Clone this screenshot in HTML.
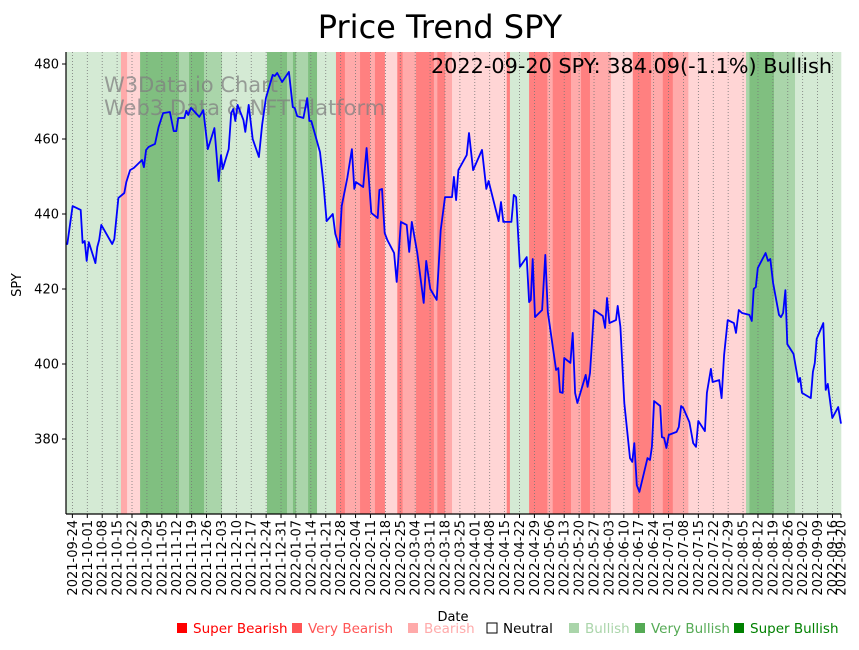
<!DOCTYPE html>
<html><head><meta charset="utf-8"><style>
html,body{margin:0;padding:0;background:#fff;}
body{width:859px;height:646px;overflow:hidden;font-family:"DejaVu Sans","Liberation Sans",sans-serif;}
</style></head><body>
<svg id="chart" width="859" height="646" xmlns="http://www.w3.org/2000/svg"></svg>
<script>
// ---- data ----
const startDate = "2021-09-21";
const endDay = 364;
const priceDays = [0,0.6,3.1,6.9,7.8,8.8,9.7,10.7,13.8,14.7,15.6,16.6,21.7,22.7,24.6,27.4,28.3,30.1,31.9,35.7,36.6,37.6,38.8,41.8,43.5,45.6,48.8,50.6,51.8,52.7,55.6,56.5,57.4,58.7,62.6,64.5,66.6,69.7,71.7,72.8,73.6,76.4,77.6,78.6,79.5,80.6,83.3,84.2,85.8,87.7,90.6,92.1,93.9,97.1,98.0,99.2,101.5,104.7,106.5,107.4,108.6,111.5,113.3,114.3,115.2,119.3,120.9,122.4,125.3,126.5,128.4,129.5,132.1,134.3,135.4,136.2,139.6,141.2,143.4,146.4,147.2,148.4,149.7,150.9,154.1,155.3,157.3,160.0,161.2,162.4,165.0,168.0,169.2,171.1,174.1,176.0,178.0,181.3,182.2,183.2,184.3,188.2,189.3,191.2,195.4,197.4,198.5,203.2,204.3,205.4,209.2,210.3,211.4,213.2,216.4,217.5,218.3,219.2,220.3,223.6,225.1,226.3,230.2,231.2,232.0,233.3,234.0,236.9,238.0,239.1,240.2,244.1,245.0,246.1,248.0,252.1,253.2,254.1,255.2,258.3,259.1,260.4,262.2,264.9,266.0,266.9,268.1,269.3,273.1,274.3,275.2,276.2,279.1,279.9,280.9,282.0,283.1,286.8,287.8,288.9,289.9,292.8,294.6,295.9,297.0,300.1,301.0,302.9,303.7,306.8,307.9,309.1,310.8,313.7,314.7,316.0,317.5,321.0,322.1,323.0,324.0,324.9,328.6,329.7,330.8,332.1,334.9,335.8,336.8,337.9,338.8,341.7,344.0,344.8,345.7,349.8,350.8,351.7,352.6,355.7,356.8,357.8,359.9,362.7,364.0];
const priceValues = [432.0,432.0,442.1,441.1,432.3,432.8,427.5,432.5,426.9,431.2,433.1,437.1,432.0,433.3,444.3,445.6,448.5,451.7,452.3,454.4,452.5,457.1,457.9,458.7,463.2,466.9,467.2,462.1,462.1,465.6,465.6,467.5,466.4,468.3,465.9,467.7,457.3,462.9,448.8,455.7,452.0,457.3,466.9,468.0,464.8,469.1,465.1,461.9,469.1,460.0,455.2,463.7,470.9,477.1,476.8,477.6,475.2,477.9,468.5,468.3,466.1,465.6,470.9,464.8,464.8,456.5,448.3,438.1,440.0,434.7,431.2,442.1,449.6,457.3,446.7,448.5,447.2,457.6,440.3,438.9,446.4,446.7,434.9,433.1,429.6,421.9,437.9,437.1,429.9,437.9,429.6,416.3,427.5,420.0,417.1,435.7,444.5,444.5,449.9,443.7,451.7,455.7,461.6,451.7,457.1,446.7,448.8,438.1,443.2,437.9,437.9,445.1,444.5,425.9,428.5,416.5,417.1,428.0,412.5,414.4,429.1,413.9,398.4,398.9,392.5,392.3,401.6,400.3,408.3,392.3,389.6,397.1,393.9,397.6,414.4,412.8,409.6,417.6,410.9,411.7,415.5,409.9,389.6,374.9,373.9,378.9,367.7,365.9,374.9,374.4,377.9,390.1,388.8,380.5,380.3,377.6,381.1,381.9,383.2,388.8,388.3,384.5,378.9,377.9,384.8,382.1,392.3,398.7,395.2,395.7,390.9,402.4,411.7,410.9,408.3,414.4,413.6,413.1,411.5,420.0,420.5,425.6,429.6,427.5,428.0,421.6,413.1,412.5,413.6,419.7,405.3,402.7,395.2,396.3,392.3,390.9,397.9,400.3,406.7,410.9,393.1,394.7,385.6,388.5,384.1];
const bandStarts = [0,25.8,28.7,34.8,53.1,57.8,64.8,73.3,94.4,103.8,106.6,108.0,113.7,117.9,126.8,131.0,138.1,142.8,145.1,149.8,155.6,158.1,164.4,172.8,174.4,178.0,181.3,207.0,208.5,217.5,226.1,228.6,237.2,241.9,246.1,256.0,266.2,274.8,280.3,285.0,292.3,319.4,321.0,332.5,342.4];
const bandEnds = [25.8,28.7,34.8,53.1,57.8,64.8,73.3,94.4,103.8,106.6,108.0,113.7,117.9,126.8,131.0,138.1,142.8,145.1,149.8,155.6,158.1,164.4,172.8,174.4,178.0,181.3,207.0,208.5,217.5,226.1,228.6,237.2,241.9,246.1,256.0,266.2,274.8,280.3,285.0,292.3,319.4,321.0,332.5,342.4,364.0];
const bandStates = ["LG","MR","LR","DG","MG","DG","MG","LG","DG","MG","DG","MG","DG","LG","SR","MR","SR","MR","SR","LR","SR","MR","SR","MR","SR","MR","LR","SR","LG","SR","MR","SR","MR","SR","MR","LR","SR","MR","SR","MR","LR","MG","DG","MG","LG"];
const yTicks = [380,400,420,440,460,480];
const legendLabels = ["Super Bearish","Very Bearish","Bearish","Neutral","Bullish","Very Bullish","Super Bullish"];
const legendColors = ["#ff0000","#ff5555","#ffaaaa","none","#aad5aa","#55aa55","#008000"];
const legendX = [176,291,407,486,568,634,733];

// ---- layout ----
const NS="http://www.w3.org/2000/svg";
const svg=document.getElementById('chart');
const X0=66,X1=841,Y0=52,Y1=514;
const xScale=d=>X0+(d/endDay)*(X1-X0);
const yScale=v=>439-(v-380)*3.75;
const bandColor={LG:"#d4ead4",MG:"#aad5aa",DG:"#80bf80",LR:"#ffd5d5",MR:"#ffaaaa",SR:"#ff8080"};
function mk(tag,attrs,parent){const e=document.createElementNS(NS,tag);for(const k in attrs)e.setAttribute(k,attrs[k]);(parent||svg).appendChild(e);return e;}
function dateStr(d){const t=new Date(startDate+"T00:00:00Z");t.setUTCDate(t.getUTCDate()+d);return t.toISOString().slice(0,10);}

// bands
const gB=mk('g',{});


for(let i=0;i<bandStarts.length;i++){
  const r=mk('rect',{x:xScale(bandStarts[i]),y:Y0,width:xScale(bandEnds[i])-xScale(bandStarts[i])+0.3,height:Y1-Y0,fill:bandColor[bandStates[i]]},gB);
  
  
}
// x ticks + grid
const tickDays=[];for(let d=3;d<=endDay;d+=7)tickDays.push(d);tickDays.push(endDay);
const gX=mk('g',{});


tickDays.forEach(d=>{
  const x=xScale(d);
  if(d<endDay){const gl=mk('line',{x1:x,x2:x,y1:Y0,y2:Y1,stroke:"#777",'stroke-width':0.8,'stroke-dasharray':"1,2"},gX);
  
  }
  mk('line',{x1:x,x2:x,y1:Y1,y2:Y1+4,stroke:"#000",'stroke-width':1},gX);
  const t=mk('text',{x:0,y:0,transform:`translate(${x+4.5},520) rotate(-90)`,'text-anchor':'end','font-size':13,fill:'#000'},gX);
  t.textContent=dateStr(d);
  
  
});
// y ticks
const gY=mk('g',{});


yTicks.forEach(v=>{
  const y=yScale(v);
  mk('line',{x1:X0-4,x2:X0,y1:y,y2:y,stroke:"#000"},gY);
  const t=mk('text',{x:X0-7,y:y+4.5,'text-anchor':'end','font-size':13},gY);
  t.textContent=v;
  
  
});
// watermark
const wm=mk('text',{x:104,y:92,'font-size':21,fill:'#808080','fill-opacity':0.75});
wm.textContent="W3Data.io Chart";


const wm2=mk('text',{x:104,y:115,'font-size':21,fill:'#808080','fill-opacity':0.75});
wm2.textContent="Web3 Data & NFT Platform";


// line
const pts=priceDays.map((d,i)=>xScale(d).toFixed(1)+","+yScale(priceValues[i]).toFixed(1)).join(" ");
const pl=mk('polyline',{points:pts,fill:'none',stroke:'#0000ff','stroke-width':1.8,'stroke-linejoin':'round'});


// spines
mk('line',{x1:X0,x2:X0,y1:Y0,y2:Y1,stroke:'#000','stroke-width':1.2});
mk('line',{x1:X0,x2:X1,y1:Y1,y2:Y1,stroke:'#000','stroke-width':1.2});
// annotation
const an=mk('text',{x:832,y:73,'text-anchor':'end','font-size':20.8});
an.textContent="2022-09-20 SPY: 384.09(-1.1%) Bullish";


// title
const ti=mk('text',{x:440,y:38,'text-anchor':'middle','font-size':32});
ti.textContent="Price Trend SPY";


// axis titles
const xt=mk('text',{x:453,y:621,'text-anchor':'middle','font-size':13});
xt.textContent="Date";


const yt=mk('text',{x:0,y:0,transform:'translate(21,285) rotate(-90)','text-anchor':'middle','font-size':13});
yt.textContent="SPY";


// legend
legendLabels.forEach((lab,i)=>{
  const g=mk('g',{});
  
  
  const x=legendX[i];
  mk('rect',{x:x+1,y:623,width:10,height:10,fill:legendColors[i]==='none'?'#fff':legendColors[i],stroke:legendColors[i]==='none'?'#000':'none','stroke-width':1},g);
  const t=mk('text',{x:x+17,y:633,'font-size':13.5,fill:legendColors[i]==='none'?'#000':legendColors[i]},g);
  t.textContent=lab;
});
</script>
</body></html>
